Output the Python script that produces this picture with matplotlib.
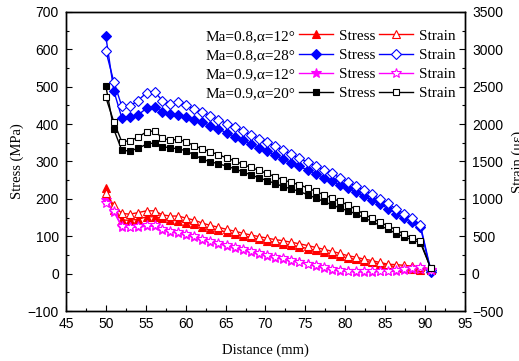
import numpy as np
import matplotlib
matplotlib.use("Agg")
import matplotlib.pyplot as plt
from matplotlib.lines import Line2D

# distance along the blade (mm)
distance = [50.0, 51.0, 52.0, 53.0, 54.0, 55.1, 56.1, 57.1, 58.1, 59.1,
            60.1, 61.1, 62.1, 63.1, 64.1, 65.2, 66.2, 67.2, 68.2, 69.2,
            70.2, 71.2, 72.2, 73.2, 74.2, 75.3, 76.3, 77.3, 78.3, 79.3,
            80.3, 81.3, 82.3, 83.3, 84.3, 85.4, 86.4, 87.4, 88.4, 89.4, 90.7]

# Stress (MPa), left axis
stress_08_12 = [228, 170, 143, 143, 145, 152, 152, 148, 143, 141,
                136, 133, 125, 120, 116, 111, 106, 101, 97, 92,
                88, 84, 80, 76, 72, 67, 62, 57, 52, 47,
                42, 38, 34, 30, 26, 22, 18, 15, 12, 10, 10]
stress_08_28 = [635, 489, 417, 420, 424, 442, 446, 433, 427, 424,
                420, 411, 405, 396, 387, 376, 366, 357, 347, 337,
                327, 317, 307, 297, 287, 277, 267, 257, 247, 238,
                229, 219, 208, 197, 186, 174, 160, 150, 139, 126, 5]
stress_09_12 = [197, 166, 125, 124, 124, 127, 127, 117, 112, 108,
                103, 97, 90, 85, 80, 74, 68, 62, 57, 52,
                47, 43, 39, 34, 30, 25, 20, 15, 11, 8,
                6, 5, 5, 5, 6, 7, 8, 10, 12, 13, 10]
stress_09_20 = [502, 386, 330, 328, 335, 346, 350, 340, 336, 334,
                328, 317, 306, 299, 294, 287, 280, 272, 264, 256,
                249, 241, 233, 227, 220, 211, 202, 193, 184, 176,
                168, 160, 150, 140, 129, 118, 107, 98, 90, 83, 15]

# Strain (micro-strain), right axis
strain_08_12 = [1075, 915, 805, 795, 815, 840, 840, 785, 770, 770,
                740, 715, 675, 645, 620, 590, 565, 540, 515, 495,
                475, 455, 440, 420, 400, 375, 350, 325, 300, 270,
                240, 220, 195, 175, 150, 125, 120, 110, 100, 90, 60]
strain_08_28 = [2980, 2566, 2240, 2240, 2312, 2418, 2432, 2312, 2265, 2298,
                2255, 2195, 2160, 2110, 2060, 2005, 1955, 1905, 1855, 1805,
                1755, 1705, 1650, 1600, 1545, 1490, 1440, 1390, 1340, 1285,
                1230, 1170, 1115, 1060, 1000, 940, 860, 800, 740, 650, 50]
strain_09_12 = [940, 840, 640, 630, 635, 650, 650, 600, 575, 555,
                530, 500, 465, 440, 415, 385, 355, 325, 300, 275,
                250, 225, 205, 180, 160, 135, 110, 85, 65, 45,
                35, 30, 30, 30, 35, 40, 50, 60, 75, 95, 50]
strain_09_20 = [2357, 2030, 1764, 1777, 1822, 1897, 1910, 1809, 1786, 1795,
                1760, 1710, 1665, 1630, 1590, 1545, 1505, 1460, 1420, 1380,
                1340, 1295, 1255, 1220, 1190, 1145, 1100, 1055, 1010, 965,
                920, 860, 800, 740, 690, 635, 585, 525, 475, 440, 70]

cases = ["Ma=0.8,\u03b1=12\u00b0", "Ma=0.8,\u03b1=28\u00b0",
         "Ma=0.9,\u03b1=12\u00b0", "Ma=0.9,\u03b1=20\u00b0"]
colors = ["#ff0000", "#0000ff", "#ff00ff", "#000000"]
markers = ["^", "D", "*", "s"]
msizes = [5.5, 5.0, 7.0, 4.5]
stress_all = [stress_08_12, stress_08_28, stress_09_12, stress_09_20]
strain_all = [strain_08_12, strain_08_28, strain_09_12, strain_09_20]

sans = ["Liberation Sans", "DejaVu Sans"]
serif = ["Liberation Serif", "DejaVu Serif"]

fig = plt.figure(figsize=(5.19, 3.61), dpi=100)
ax = fig.add_axes([0.127, 0.1385, 0.769, 0.8285])
ax2 = ax.twinx()

stress_h, strain_h = [], []
for c, m, ms, s, e in zip(colors, markers, msizes, stress_all, strain_all):
    h1, = ax.plot(distance, s, color=c, marker=m, ms=ms, lw=1.0, mec=c, mfc=c, mew=0.8)
    h2, = ax2.plot(distance, e, color=c, marker=m, ms=ms, lw=1.0, mec=c, mfc="white", mew=0.8)
    stress_h.append(h1)
    strain_h.append(h2)

ax.set_xlim(45, 95)
ax.set_ylim(-100, 700)
ax2.set_ylim(-500, 3500)
ax.set_xticks(np.arange(45, 96, 5))
ax.set_xticks(np.arange(45, 95.1, 2.5), minor=True)
ax.set_yticks(np.arange(-100, 701, 100))
ax.set_yticks(np.arange(-100, 701, 50), minor=True)
ax2.set_yticks(np.arange(-500, 3501, 500))
ax2.set_yticks(np.arange(-500, 3501, 250), minor=True)

ax.tick_params(axis="both", which="both", direction="in", top=False, right=False)
ax.tick_params(axis="both", which="major", length=4, width=0.8)
ax.tick_params(axis="both", which="minor", length=2, width=0.8)
ax.tick_params(axis="y", pad=5)
ax.tick_params(axis="x", pad=4)
ax2.tick_params(axis="y", which="both", direction="in", pad=5, width=0.8)
ax2.tick_params(axis="y", which="major", length=4)
ax2.tick_params(axis="y", which="minor", length=2)

for a in (ax, ax2):
    for lab in a.get_xticklabels() + a.get_yticklabels():
        lab.set_fontfamily(sans)
        lab.set_fontsize(10)
    for sp in a.spines.values():
        sp.set_linewidth(1.0)

ax.set_xlabel("Distance (mm)", family=serif, fontsize=10.5, labelpad=9)
ax.set_ylabel("Stress (MPa)", family=serif, fontsize=10.5, labelpad=3)
ax2.set_ylabel("Strain (\u03bc\u03b5)", family=serif, fontsize=10.5, labelpad=6)

# legend: row label | stress handle | strain handle
blank = [Line2D([], [], linestyle="none") for _ in cases]
handles = blank + stress_h + strain_h
labels = cases + ["Stress"] * 4 + ["Strain"] * 4
leg = ax2.legend(handles, labels, ncol=3, loc="upper left",
                 bbox_to_anchor=(166 / 519, 1 - 29 / 361), bbox_transform=fig.transFigure,
                 frameon=False, borderpad=0, borderaxespad=0, handlelength=2.2,
                 handletextpad=0.4, columnspacing=0.25, labelspacing=0.36,
                 prop={"family": serif, "size": 11})

fig.savefig("out.png", dpi=100)
